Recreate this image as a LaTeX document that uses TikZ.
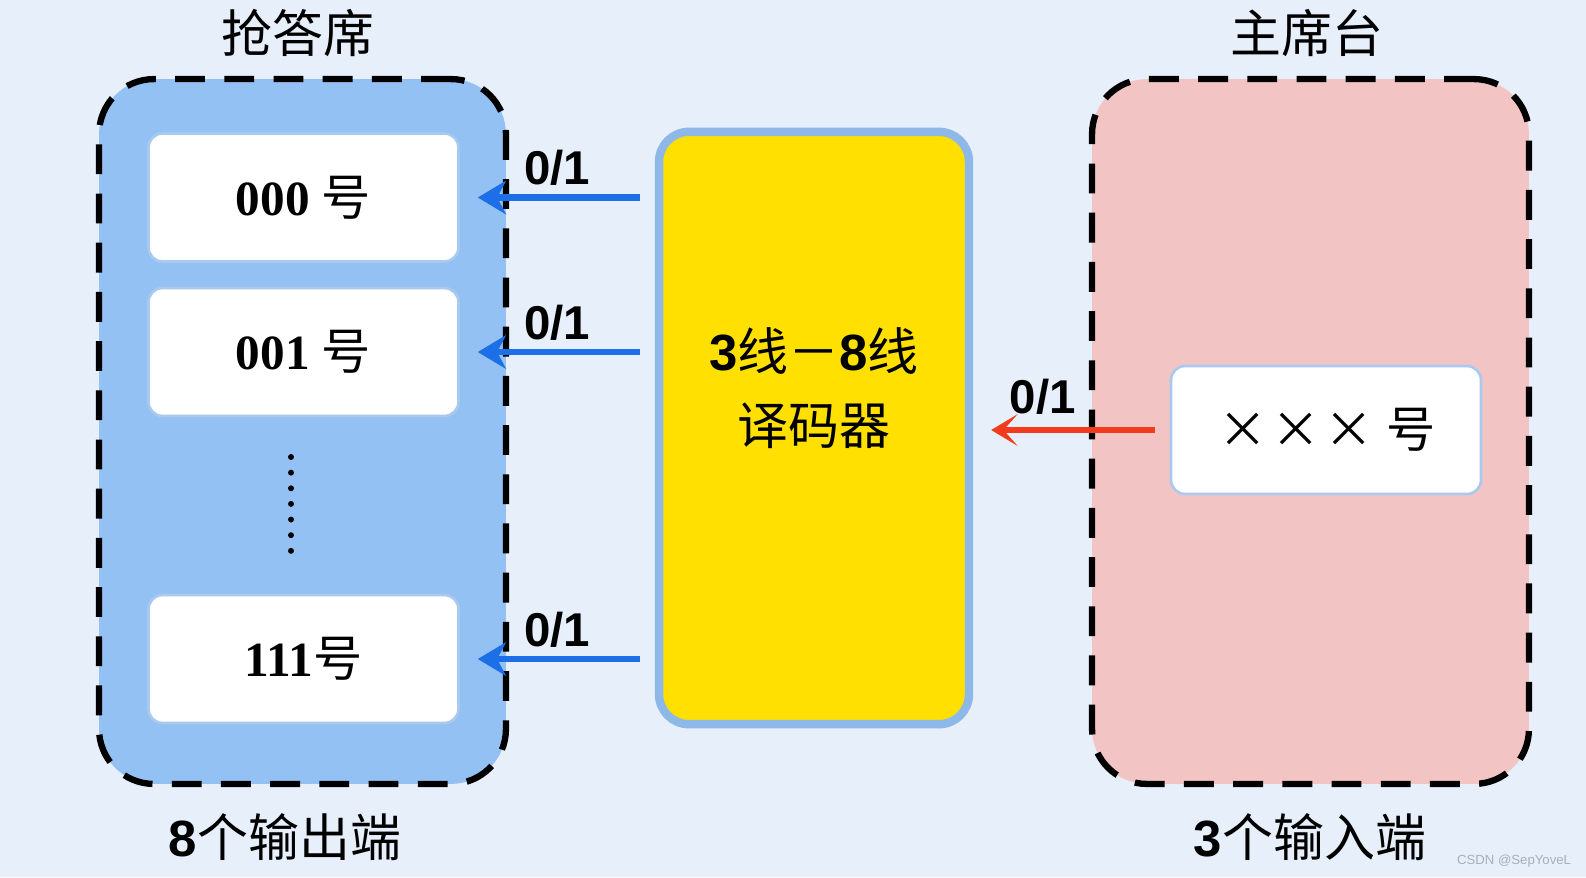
\documentclass[tikz,border=0pt]{standalone}
\usepackage{fontspec}
\setmainfont{Liberation Serif}
\setsansfont{Liberation Sans}
\newfontfamily\cjk{Noto Sans CJK SC}
\usetikzlibrary{arrows.meta,positioning}
\definecolor{bgblue}{HTML}{E6EFFA}
\definecolor{seatblue}{HTML}{94C1F4}
\definecolor{chairpink}{HTML}{F2C5C4}
\definecolor{decyellow}{HTML}{FFE000}
\definecolor{decborder}{HTML}{8DB8E8}
\definecolor{cellborder}{HTML}{A9C9EE}
\definecolor{arrowblue}{HTML}{1C6FE6}
\definecolor{arrowred}{HTML}{F23B1D}
\definecolor{wmgray}{HTML}{A8B0BA}
\newcommand{\dg}[1]{{\sffamily\bfseries #1}}
\newcommand{\tm}{\makebox[1.08em]{×}}
\begin{document}
\begin{tikzpicture}[x=0.02cm, y=-0.02cm, line join=round,
		grp/.style={draw=black, line width=3.6pt, dash pattern=on 17pt off 11pt,
			rounded corners=1.1cm, inner sep=0pt, minimum height=14.1cm},
		cell/.style={draw=cellborder, fill=white, line width=1.5pt, rounded corners=0.28cm,
			inner sep=0pt, minimum width=6.2cm, minimum height=2.56cm,
			font=\fontsize{28}{30}\selectfont},
		dec/.style={draw=decborder, fill=decyellow, line width=4.8pt, rounded corners=0.6cm,
			inner sep=0pt, minimum width=6.2cm, minimum height=11.85cm},
		sig/.style={line width=3.6pt, draw=arrowblue, -{Stealth[length=16pt,width=19pt,inset=5pt]},
			shorten <=0.3cm, shorten >=0.36cm},
		lbl/.style={font=\fontsize{27}{30}\selectfont\sffamily\bfseries, inner sep=0pt},
		ttl/.style={font=\fontsize{29}{32}\selectfont\cjk, inner sep=0pt}]
	\fill[bgblue] (0,0) rectangle (1586,877);
	% two groups
	\node[grp, fill=seatblue, minimum width=8.14cm] (seats) at (302.5,431.5) {};
	\node[grp, fill=chairpink, minimum width=8.74cm] (chair) at (1310.5,431.5) {};
	\node[ttl] (seatsttl) at (298,33) {抢答席};
	\node[ttl] (chairttl) at (1307,33) {主席台};
	\node[ttl] (outs) at (285,837) {\dg{8}个输出端};
	\node[ttl] (ins) at (1310,837) {\dg{3}个输入端};
	% answer seats
	\node[cell] (c000) at (303.5,197.5) {\textbf{000}\ {\cjk 号}};
	\node[cell] (c001) at (303.5,352) {\textbf{001}\ {\cjk 号}};
	\node[cell] (c111) at (303.5,659) {\textbf{111}{\cjk 号}};
	\coordinate (dotstop) at (291,457);
	\coordinate (dotsbot) at (291,551);
	\draw[line width=3.4pt, line cap=round, dash pattern=on 0pt off 8.9pt] (dotstop) -- (dotsbot);
	% decoder
	\node[dec] (dec) at (814,428) {};
	\node[font=\fontsize{29}{42}\selectfont, align=center] (dectxt) at (814,388)
		{\dg{3}{\cjk 线－}\dg{8}{\cjk 线}\\{\cjk 译码器}};
	% chair input
	\node[cell] (cxxx) at (1326,430) {{\cjk \tm\tm\tm\ 号}};
	\foreach \cellname in {c000,c001,c111}
		\draw[sig] (dec.west |- \cellname) -- (\cellname.east) node[midway, above=5pt, lbl] {0/1};
	\draw[sig, draw=arrowred, -{Stealth[length=15pt,width=18pt,inset=8pt]}] (cxxx.west) -- (dec.east |- cxxx)
		node[pos=0.645, above=7pt, lbl] {0/1};
	\node[font=\fontsize{7.5}{8}\selectfont\sffamily, text=wmgray] (wm) at (1514,861) {CSDN @SepYoveL};
\end{tikzpicture}
\end{document}
